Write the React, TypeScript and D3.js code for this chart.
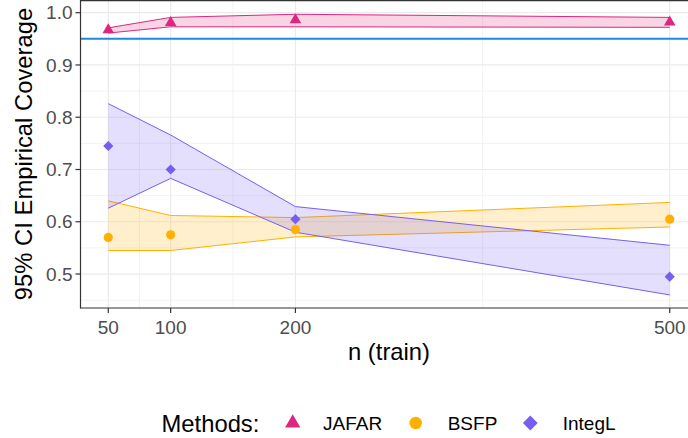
import { useEffect, useRef } from 'react';
import * as d3 from 'd3';

// training sizes
const nTrain = [50, 100, 200, 500];

const methods = ['JAFAR', 'BSFP', 'IntegL'];
const colors = ['#DC267F', '#FFB000', '#785EF0'];

// empirical coverage (points) and CI bands
const jafarCov = [0.967, 0.981, 0.986, 0.982];
const jafarLow = [0.961, 0.973, 0.973, 0.972];
const jafarHigh = [0.971, 0.991, 0.997, 0.991];

const bsfpCov = [0.570, 0.575, 0.585, 0.605];
const bsfpLow = [0.545, 0.545, 0.571, 0.590];
const bsfpHigh = [0.640, 0.612, 0.608, 0.637];

const integlCov = [0.745, 0.700, 0.605, 0.495];
const integlLow = [0.626, 0.683, 0.580, 0.460];
const integlHigh = [0.826, 0.766, 0.629, 0.555];

const nominal = 0.95;
const yTicks = [0.5, 0.6, 0.7, 0.8, 0.9, 1.0];
const yMinor = [0.45, 0.55, 0.65, 0.75, 0.85, 0.95];
const xMinor = [75, 150, 350];

export default function App() {
  const svgRef = useRef<SVGSVGElement | null>(null);

  useEffect(() => {
    const width = 688;
    const height = 438;
    const svg = d3.select(svgRef.current);
    svg.selectAll('*').remove();
    svg.attr('width', width).attr('height', height);

    const font = 'Liberation Sans, Arial, sans-serif';
    const left = 80.5;
    const bottom = 308;

    const x = d3.scaleLinear().domain([27.5, 522.5]).range([80.2, 697.8]);
    const y = d3.scaleLinear().domain([0.435, 1.0243]).range([bottom, 0]);

    const g = svg.append('g');

    // grid
    xMinor.forEach(v => {
      g.append('line').attr('x1', x(v)).attr('x2', x(v)).attr('y1', 0).attr('y2', bottom)
        .attr('stroke', '#ebebeb').attr('stroke-width', 0.6);
    });
    yMinor.forEach(v => {
      g.append('line').attr('x1', left).attr('x2', width).attr('y1', y(v)).attr('y2', y(v))
        .attr('stroke', '#ebebeb').attr('stroke-width', 0.6);
    });
    nTrain.forEach(v => {
      g.append('line').attr('x1', x(v)).attr('x2', x(v)).attr('y1', 0).attr('y2', bottom)
        .attr('stroke', '#ebebeb').attr('stroke-width', 1.2);
    });
    yTicks.forEach(v => {
      g.append('line').attr('x1', left).attr('x2', width).attr('y1', y(v)).attr('y2', y(v))
        .attr('stroke', '#ebebeb').attr('stroke-width', 1.2);
    });

    const series = [
      { cov: jafarCov, low: jafarLow, high: jafarHigh },
      { cov: bsfpCov, low: bsfpLow, high: bsfpHigh },
      { cov: integlCov, low: integlLow, high: integlHigh },
    ];

    const area = d3.area<number>()
      .x((d, i) => x(nTrain[i]));
    const line = d3.line<number>().x((d, i) => x(nTrain[i])).y(d => y(d));

    series.forEach((s, si) => {
      g.append('path')
        .attr('d', area.y0((d, i) => y(s.low[i])).y1(d => y(d))(s.high))
        .attr('fill', colors[si]).attr('fill-opacity', 0.2);
      [s.low, s.high].forEach(arr => {
        g.append('path').attr('d', line(arr)).attr('fill', 'none')
          .attr('stroke', colors[si]).attr('stroke-width', 1);
      });
    });

    // nominal level
    g.append('line').attr('x1', left).attr('x2', width).attr('y1', y(nominal)).attr('y2', y(nominal))
      .attr('stroke', '#1E88E5').attr('stroke-width', 2);

    const symbols = [
      { type: d3.symbolTriangle, size: 58, key: 100, rot: 0 },
      { type: d3.symbolCircle, size: 66, key: 122, rot: 0 },
      { type: d3.symbolSquare, size: 52, key: 110, rot: 45 },
    ];

    series.forEach((s, si) => {
      const sym = d3.symbol().type(symbols[si].type).size(symbols[si].size);
      s.cov.forEach((v, i) => {
        g.append('path').attr('d', sym()!)
          .attr('transform', `translate(${x(nTrain[i])},${y(v)}) rotate(${symbols[si].rot})`)
          .attr('fill', colors[si]);
      });
    });

    // axes
    g.append('line').attr('x1', left).attr('x2', left).attr('y1', 0).attr('y2', bottom + 0.5)
      .attr('stroke', '#333').attr('stroke-width', 1.2);
    g.append('line').attr('x1', left).attr('x2', width).attr('y1', bottom).attr('y2', bottom)
      .attr('stroke', '#333').attr('stroke-width', 1.2);
    g.append('line').attr('x1', left).attr('x2', width).attr('y1', 0.6).attr('y2', 0.6)
      .attr('stroke', '#333').attr('stroke-width', 1.2);

    yTicks.forEach(v => {
      g.append('line').attr('x1', left - 5).attr('x2', left).attr('y1', y(v)).attr('y2', y(v))
        .attr('stroke', '#333').attr('stroke-width', 1.2);
      g.append('text').attr('x', left - 8).attr('y', y(v)).attr('dy', '0.35em')
        .attr('text-anchor', 'end').attr('font-family', font).attr('font-size', 19)
        .attr('fill', '#4d4d4d').text(d3.format('.1f')(v));
    });
    nTrain.forEach(v => {
      g.append('line').attr('x1', x(v)).attr('x2', x(v)).attr('y1', bottom).attr('y2', bottom + 5)
        .attr('stroke', '#333').attr('stroke-width', 1.2);
      g.append('text').attr('x', x(v)).attr('y', 334)
        .attr('text-anchor', 'middle').attr('font-family', font).attr('font-size', 19)
        .attr('fill', '#4d4d4d').text(v);
    });

    // axis titles
    g.append('text').attr('x', 389).attr('y', 360).attr('text-anchor', 'middle')
      .attr('font-family', font).attr('font-size', 23.8).attr('fill', '#000').text('n (train)');
    g.append('text').attr('transform', `translate(32,154) rotate(-90)`).attr('text-anchor', 'middle')
      .attr('font-family', font).attr('font-size', 23.8).attr('fill', '#000')
      .text('95% CI Empirical Coverage');

    // legend
    const legY = 423;
    g.append('text').attr('x', 161.5).attr('y', 431.7).attr('font-family', font)
      .attr('font-size', 23.8).attr('fill', '#000').text('Methods:');
    const keyX = [292.7, 415.7, 530.3];
    const labX = [323, 447.7, 562.7];
    methods.forEach((m, i) => {
      const sym = d3.symbol().type(symbols[i].type).size(symbols[i].key);
      g.append('path').attr('d', sym()!)
        .attr('transform', `translate(${keyX[i]},${legY}) rotate(${symbols[i].rot})`)
        .attr('fill', colors[i]);
      g.append('text').attr('x', labX[i]).attr('y', legY).attr('dy', '0.35em')
        .attr('font-family', font).attr('font-size', 19).attr('fill', '#000').text(m);
    });
  }, []);

  return (
    <div style={{ position: 'absolute', left: 0, top: 0, width: 688, height: 438, background: '#fff' }}>
      <svg ref={svgRef} style={{ display: 'block' }}></svg>
    </div>
  );
}
